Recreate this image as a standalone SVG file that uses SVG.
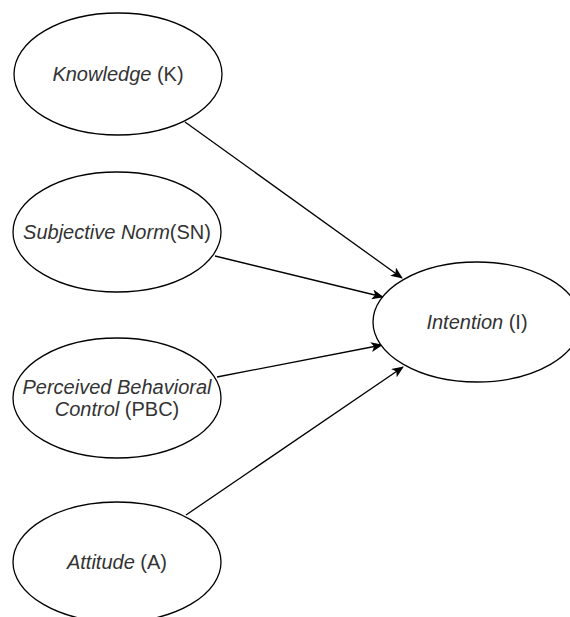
<svg xmlns="http://www.w3.org/2000/svg" width="570" height="617" viewBox="0 0 570 617">
<style>
.n ellipse{fill:#fff;stroke:#000;stroke-width:1.3}
.n text{font-family:"Liberation Sans",Arial,sans-serif;font-size:20px;fill:#333;text-anchor:middle}
.i{font-style:italic}
.c line{stroke:#000;stroke-width:1.3;marker-end:url(#a)}
</style>
<defs>
<marker id="a" markerWidth="12" markerHeight="10" refX="11" refY="5" orient="auto" markerUnits="userSpaceOnUse">
<path d="M0,0 L12,5 L0,10 L3,5 Z" fill="#000"/>
</marker>
</defs>
<rect width="570" height="617" fill="#fff"/>
<g id="connectors" class="c">
<line x1="185" y1="122" x2="402" y2="278"/>
<line x1="215" y1="256" x2="383" y2="297"/>
<line x1="217" y1="377" x2="382" y2="345"/>
<line x1="186" y1="515" x2="403" y2="367"/>
</g>
<g id="knowledge" class="n">
<ellipse cx="118" cy="74" rx="104" ry="61"/>
<text x="118" y="81"><tspan class="i">Knowledge</tspan> (K)</text>
</g>
<g id="subjective-norm" class="n">
<ellipse cx="117" cy="232" rx="104" ry="60"/>
<text x="117" y="239"><tspan class="i">Subjective Norm</tspan>(SN)</text>
</g>
<g id="pbc" class="n">
<ellipse cx="117" cy="398" rx="104" ry="60"/>
<text x="117" y="394" class="i">Perceived Behavioral</text>
<text x="117" y="416"><tspan class="i">Control</tspan> (PBC)</text>
</g>
<g id="attitude" class="n">
<ellipse cx="117" cy="562" rx="104" ry="60"/>
<text x="117" y="569"><tspan class="i">Attitude</tspan> (A)</text>
</g>
<g id="intention" class="n">
<ellipse cx="477" cy="322" rx="104" ry="60"/>
<text x="477" y="329"><tspan class="i">Intention</tspan> (I)</text>
</g>
</svg>
